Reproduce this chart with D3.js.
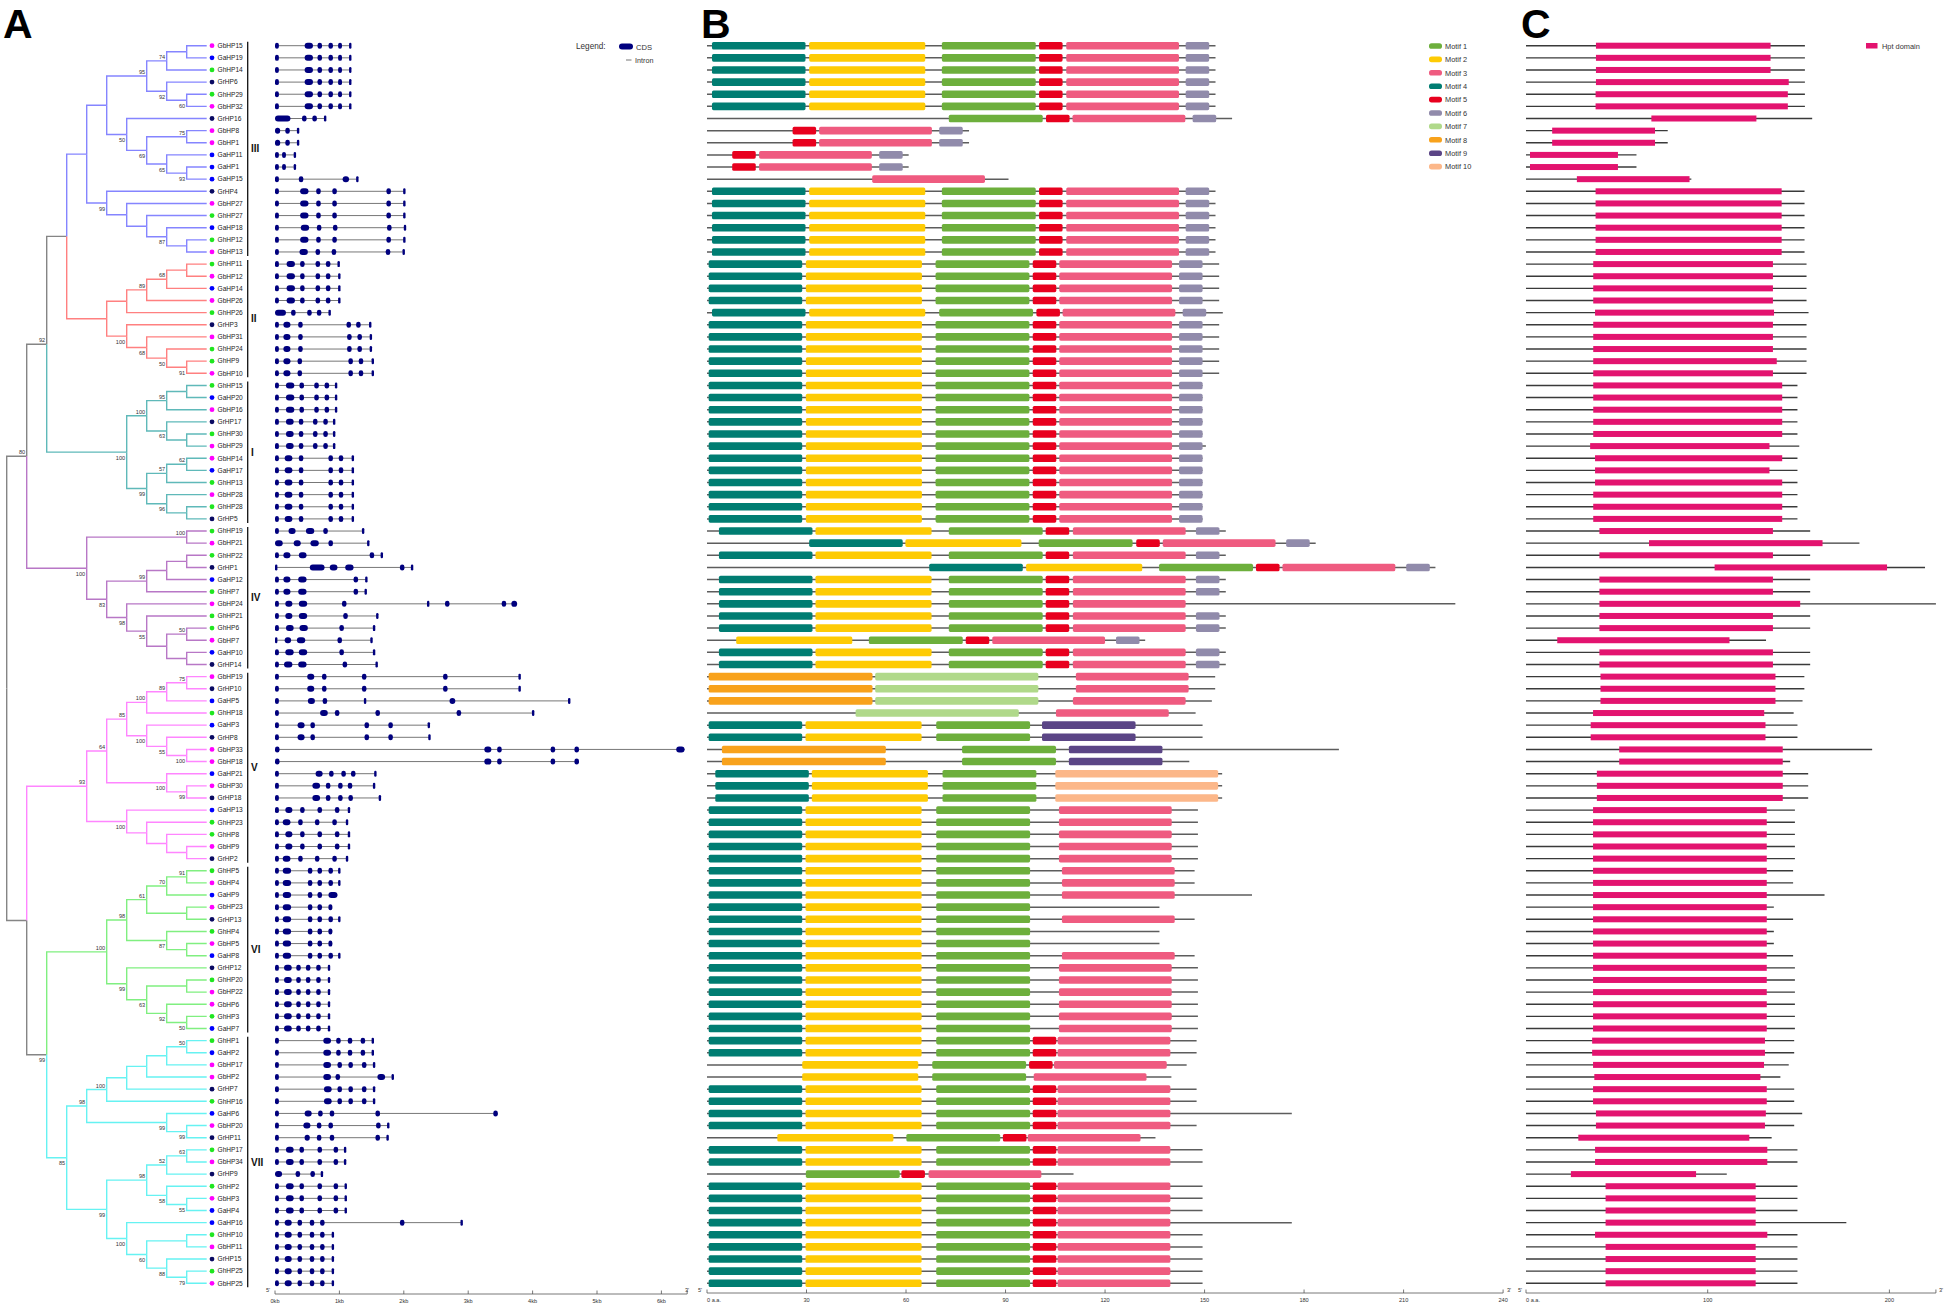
<!DOCTYPE html>
<html><head><meta charset="utf-8">
<script src="https://cdn.jsdelivr.net/npm/d3@7"></script>
<style>body{margin:0;background:#fff}svg{display:block}text{font-family:"Liberation Sans",Arial,sans-serif}</style>
</head><body><svg id="c" width="1944" height="1305"></svg>
<script>
// ---------------- DATA ----------------
const leafNames = ["GbHP15","GaHP19","GhHP14","GrHP6","GhHP29","GbHP32","GrHP16","GbHP8","GbHP1","GaHP11","GaHP1","GaHP15","GrHP4","GbHP27","GhHP27","GaHP18","GhHP12","GbHP13",
"GhHP11","GbHP12","GaHP14","GbHP26","GhHP26","GrHP3","GbHP31","GhHP24","GhHP9","GbHP10",
"GhHP15","GaHP20","GbHP16","GrHP17","GhHP30","GbHP29","GbHP14","GaHP17","GhHP13","GbHP28","GhHP28","GrHP5",
"GhHP19","GbHP21","GhHP22","GrHP1","GaHP12","GhHP7","GbHP24","GhHP21","GhHP6","GbHP7","GaHP10","GrHP14",
"GbHP19","GrHP10","GaHP5","GhHP18","GaHP3","GrHP8","GbHP33","GbHP18","GaHP21","GbHP30","GrHP18","GaHP13","GhHP23","GhHP8","GbHP9","GrHP2",
"GhHP5","GbHP4","GaHP9","GbHP23","GrHP13","GhHP4","GbHP5","GaHP8","GrHP12","GhHP20","GbHP22","GbHP6","GhHP3","GaHP7",
"GhHP1","GaHP2","GbHP17","GbHP2","GrHP7","GhHP16","GaHP6","GbHP20","GrHP11","GhHP17","GbHP34","GrHP9","GhHP2","GbHP3","GaHP4","GaHP16","GhHP10","GbHP11","GrHP15","GhHP25","GbHP25"];

const cladeNames = ["III","II","I","IV","V","VI","VII"];
const cladeSizes = [18,10,12,12,16,14,21];
const cladeColors = ["#8585ff","#ff8080","#5fb9b9","#b877c6","#ff85ff","#80ef80","#66f2f2"];
const speciesColors = {Gb:"#ff00ff",Ga:"#0000ff",Gh:"#1fe61f",Gr:"#0a0a62"};

// Newick topology with bootstrap values (read from the tree)
const treeIII = "(((((GbHP15,GaHP19),GhHP14)74,(GrHP6,(GhHP29,GbHP32)60)92)95,(GrHP16,((GbHP8,GbHP1)75,(GaHP11,(GaHP1,GaHP15)93)65)69)50),(GrHP4,(GbHP27,(GhHP27,(GaHP18,(GhHP12,GbHP13))87)))99)";
const treeII = "(((((GhHP11,GbHP12),GaHP14)68,GbHP26)89,GhHP26),(GrHP3,(GbHP31,(GhHP24,(GhHP9,GbHP10)91)50)68)100)";
const treeI = "((((GhHP15,GaHP20),GbHP16)95,(GrHP17,(GhHP30,GbHP29))63)100,(((GbHP14,GaHP17)62,GhHP13)57,(GbHP28,(GhHP28,GrHP5))96)99)100";
const treeIV = "((GhHP19,GbHP21)100,((((GhHP22,GrHP1),GaHP12),GhHP7)99,(GbHP24,(GhHP21,((GhHP6,GbHP7)50,(GaHP10,GrHP14)))55)98)83)100";
const treeV = "((((((GbHP19,GrHP10)75,GaHP5)89,GhHP18)100,(GaHP3,(GrHP8,(GbHP33,GbHP18)100)55)100)85,(GaHP21,(GbHP30,GrHP18)99)100)64,(GaHP13,(GhHP23,(GhHP8,(GbHP9,GrHP2))))100)93";
const treeVI = "(((((GhHP5,GbHP4)91,GaHP9)70,(GbHP23,GrHP13))61,(GhHP4,(GbHP5,GaHP8))87)98,(GrHP12,((GhHP20,GbHP22),(GbHP6,(GhHP3,GaHP7)50)92)63)99)100";
const treeVII = "(((((((GhHP1,GaHP2)50,GbHP17),GbHP2),GrHP7),GhHP16)100,(GaHP6,(GbHP20,GrHP11)99)99)98,((((GhHP17,GbHP34)63,GrHP9)52,(GhHP2,(GbHP3,GaHP4)55)58)98,(GaHP16,((GhHP10,GbHP11),(GrHP15,(GhHP25,GbHP25)79)88)60)100)99)85";
const treeNewick = `((((${treeIII},${treeII}),${treeI})92,${treeIV})80,(${treeV},(${treeVI},${treeVII})99))`;

// gene structures: CDS [start,end] in kb
const geneExons = [
[[0,.06],[.46,.59],[.66,.73],[.83,.90],[.98,1.04],[1.15,1.18]],
[[0,.06],[.46,.59],[.66,.73],[.83,.90],[.98,1.04],[1.15,1.18]],
[[0,.06],[.46,.59],[.66,.73],[.83,.90],[.98,1.04],[1.15,1.18]],
[[0,.06],[.46,.59],[.66,.73],[.83,.90],[.98,1.04],[1.15,1.18]],
[[0,.06],[.46,.59],[.66,.73],[.83,.90],[.98,1.04],[1.15,1.18]],
[[0,.06],[.46,.59],[.66,.73],[.83,.90],[.98,1.04],[1.15,1.18]],
[[0,.24],[.42,.49],[.58,.65],[.76,.79]],
[[0,.08],[.16,.23],[.34,.36]],
[[0,.08],[.16,.23],[.34,.36]],
[[0,.06],[.11,.17],[.29,.31]],
[[0,.06],[.11,.17],[.29,.31]],
[[0,.06],[.37,.44],[1.05,1.15],[1.26,1.28]],
[[0,.06],[.39,.52],[.64,.71],[.89,.96],[1.73,1.80],[1.99,2.01]],
[[0,.06],[.39,.52],[.64,.71],[.89,.96],[1.73,1.80],[1.99,2.01]],
[[0,.06],[.39,.52],[.64,.71],[.89,.96],[1.73,1.80],[1.99,2.01]],
[[0,.06],[.40,.53],[.65,.72],[.90,.97],[1.74,1.81],[2.00,2.02]],
[[0,.06],[.39,.52],[.64,.71],[.89,.96],[1.73,1.80],[1.99,2.01]],
[[0,.06],[.38,.51],[.63,.70],[.88,.95],[1.72,1.79],[1.98,2.00]],
[[0,.06],[.18,.31],[.39,.46],[.63,.70],[.79,.86],[.97,.98]],
[[0,.06],[.18,.31],[.39,.46],[.63,.70],[.79,.86],[.98,.99]],
[[0,.06],[.18,.31],[.39,.46],[.63,.70],[.79,.86],[.98,.99]],
[[0,.06],[.18,.31],[.39,.46],[.63,.70],[.79,.86],[.98,.99]],
[[0,.17],[.25,.32],[.50,.57],[.65,.72],[.83,.85]],
[[0,.06],[.13,.24],[.36,.43],[1.11,1.18],[1.26,1.33],[1.46,1.48]],
[[0,.06],[.13,.24],[.36,.43],[1.12,1.19],[1.28,1.35],[1.47,1.49]],
[[0,.06],[.13,.24],[.36,.43],[1.12,1.19],[1.28,1.35],[1.47,1.49]],
[[0,.06],[.13,.24],[.35,.42],[1.14,1.21],[1.30,1.37],[1.50,1.52]],
[[0,.06],[.13,.24],[.35,.42],[1.14,1.21],[1.30,1.37],[1.50,1.52]],
[[0,.06],[.17,.30],[.38,.45],[.61,.68],[.77,.84],[.93,.95]],
[[0,.06],[.17,.30],[.38,.45],[.61,.68],[.77,.84],[.93,.95]],
[[0,.06],[.17,.30],[.38,.45],[.61,.68],[.77,.84],[.93,.95]],
[[0,.06],[.17,.29],[.37,.44],[.59,.66],[.75,.82],[.90,.92]],
[[0,.06],[.17,.29],[.37,.44],[.59,.66],[.75,.82],[.90,.92]],
[[0,.06],[.17,.29],[.37,.44],[.59,.66],[.75,.82],[.90,.92]],
[[0,.06],[.15,.27],[.37,.44],[.83,.90],[.99,1.06],[1.19,1.21]],
[[0,.06],[.15,.27],[.37,.44],[.83,.90],[.99,1.06],[1.19,1.21]],
[[0,.06],[.15,.27],[.37,.44],[.83,.90],[.99,1.06],[1.19,1.21]],
[[0,.06],[.15,.27],[.37,.44],[.83,.90],[.99,1.06],[1.19,1.21]],
[[0,.06],[.15,.27],[.37,.44],[.83,.90],[.99,1.06],[1.19,1.21]],
[[0,.06],[.15,.27],[.37,.44],[.83,.90],[.99,1.06],[1.19,1.21]],
[[0,.06],[.21,.32],[.48,.61],[.75,.82],[1.35,1.37]],
[[0,.12],[.29,.40],[.55,.68],[.83,.90],[1.43,1.45]],
[[0,.06],[.13,.24],[.37,.49],[1.47,1.54],[1.64,1.66]],
[[0,.02],[.54,.77],[.85,.97],[1.09,1.22],[1.94,2.01],[2.11,2.13]],
[[0,.06],[.13,.24],[.36,.49],[1.22,1.29],[1.40,1.42]],
[[0,.06],[.13,.24],[.36,.49],[1.22,1.29],[1.39,1.41]],
[[0,.06],[.16,.27],[.37,.50],[1.04,1.11],[2.36,2.38],[2.64,2.71],[3.52,3.59],[3.67,3.76]],
[[0,.06],[.16,.27],[.37,.50],[1.06,1.13],[1.57,1.59]],
[[0,.06],[.17,.29],[.38,.51],[1.00,1.07],[1.52,1.54]],
[[0,.02],[.15,.25],[.34,.47],[.97,1.04],[1.48,1.50]],
[[0,.06],[.16,.29],[.37,.50],[1.00,1.07],[1.52,1.54]],
[[0,.06],[.14,.27],[.36,.49],[1.05,1.12],[1.56,1.58]],
[[0,.06],[.50,.61],[.73,.80],[1.35,1.42],[2.61,2.68],[3.78,3.80]],
[[0,.06],[.50,.61],[.73,.80],[1.35,1.42],[2.61,2.68],[3.78,3.80]],
[[0,.06],[.51,.62],[.74,.81],[1.38,1.40],[2.71,2.80],[4.55,4.57]],
[[0,.06],[.70,.82],[.93,1.00],[1.56,1.63],[2.82,2.89],[3.99,4.01]],
[[0,.06],[.35,.46],[.55,.62],[1.39,1.46],[1.76,1.83],[2.37,2.39]],
[[0,.06],[.35,.46],[.55,.62],[1.39,1.46],[1.76,1.83],[2.38,2.40]],
[[0,.07],[3.25,3.36],[3.45,3.52],[4.28,4.35],[4.65,4.72],[6.23,6.36]],
[[0,.07],[3.25,3.36],[3.45,3.52],[4.28,4.35],[4.65,4.72]],
[[0,.06],[.63,.74],[.84,.91],[1.03,1.10],[1.18,1.25],[1.54,1.56]],
[[0,.06],[.58,.70],[.79,.86],[.98,1.05],[1.13,1.20],[1.52,1.54]],
[[0,.06],[.58,.70],[.79,.86],[.98,1.05],[1.14,1.21],[1.61,1.63]],
[[0,.06],[.16,.27],[.39,.46],[.66,.73],[.93,1.00],[1.13,1.15]],
[[0,.06],[.12,.24],[.36,.43],[.62,.69],[.89,.96],[1.10,1.12]],
[[0,.06],[.16,.27],[.39,.46],[.66,.73],[.93,1.00],[1.13,1.15]],
[[0,.06],[.16,.27],[.39,.46],[.66,.73],[.93,1.00],[1.13,1.15]],
[[0,.06],[.12,.24],[.36,.43],[.62,.69],[.89,.96],[1.10,1.12]],
[[0,.06],[.12,.25],[.51,.58],[.66,.73],[.83,.90],[.98,1.00]],
[[0,.06],[.12,.25],[.51,.58],[.66,.73],[.83,.90],[.98,1.00]],
[[0,.06],[.12,.25],[.51,.58],[.66,.73],[.83,.97]],
[[0,.06],[.12,.25],[.51,.58],[.66,.73],[.83,.89]],
[[0,.06],[.12,.25],[.51,.58],[.66,.73],[.83,.90],[.98,1.00]],
[[0,.06],[.12,.25],[.51,.58],[.66,.73],[.83,.89]],
[[0,.06],[.12,.25],[.51,.58],[.66,.73],[.83,.89]],
[[0,.06],[.12,.25],[.51,.58],[.66,.73],[.83,.90],[.98,1.00]],
[[0,.06],[.14,.26],[.33,.40],[.48,.55],[.64,.71],[.82,.84]],
[[0,.06],[.14,.26],[.33,.40],[.48,.55],[.64,.71],[.82,.84]],
[[0,.06],[.14,.26],[.33,.40],[.48,.55],[.64,.71],[.82,.84]],
[[0,.06],[.14,.26],[.33,.40],[.48,.55],[.64,.71],[.82,.84]],
[[0,.06],[.14,.26],[.33,.40],[.48,.55],[.64,.71],[.82,.84]],
[[0,.06],[.14,.26],[.33,.40],[.48,.55],[.64,.71],[.82,.84]],
[[0,.06],[.75,.87],[.95,1.02],[1.13,1.20],[1.33,1.40],[1.50,1.52]],
[[0,.06],[.75,.87],[.95,1.02],[1.13,1.20],[1.33,1.40],[1.50,1.52]],
[[0,.06],[.75,.87],[.97,1.04],[1.14,1.21],[1.35,1.42],[1.52,1.54]],
[[0,.06],[.75,.87],[.94,1.01],[1.59,1.71],[1.81,1.83]],
[[0,.06],[.76,.88],[.97,1.04],[1.14,1.21],[1.35,1.42],[1.52,1.54]],
[[0,.06],[.76,.88],[.97,1.04],[1.14,1.21],[1.35,1.42],[1.52,1.54]],
[[0,.06],[.46,.57],[.67,.74],[.85,.92],[1.56,1.63],[3.39,3.46]],
[[0,.06],[.44,.55],[.65,.72],[.83,.90],[1.57,1.64],[1.74,1.76]],
[[0,.06],[.46,.54],[.65,.72],[.85,.92],[1.56,1.63],[1.73,1.75]],
[[0,.06],[.17,.29],[.38,.45],[.66,.73],[.91,.98],[1.07,1.09]],
[[0,.06],[.17,.29],[.38,.45],[.66,.73],[.91,.98],[1.07,1.09]],
[[0,.11],[.32,.39],[.55,.62],[.71,.73]],
[[0,.06],[.17,.29],[.38,.45],[.66,.73],[.91,.98],[1.08,1.10]],
[[0,.06],[.17,.29],[.38,.45],[.66,.73],[.91,.98],[1.08,1.10]],
[[0,.06],[.17,.29],[.38,.45],[.66,.73],[.91,.98],[1.08,1.10]],
[[0,.06],[.15,.26],[.35,.42],[.54,.61],[.70,.77],[1.94,2.01],[2.88,2.90]],
[[0,.06],[.15,.26],[.35,.42],[.54,.61],[.70,.77],[.88,.90]],
[[0,.06],[.15,.26],[.35,.42],[.54,.61],[.70,.77],[.88,.90]],
[[0,.06],[.15,.26],[.35,.42],[.54,.61],[.70,.77],[.88,.90]],
[[0,.06],[.15,.26],[.35,.42],[.54,.61],[.70,.77],[.88,.90]],
[[0,.06],[.15,.26],[.35,.42],[.54,.61],[.70,.77],[.88,.90]]
];
const kbTicks = [0,1,2,3,4,5,6];
const kbTickLabels = ["0kb","1kb","2kb","3kb","4kb","5kb","6kb"];

// motifs
const motifNames = ["Motif 1","Motif 2","Motif 3","Motif 4","Motif 5","Motif 6","Motif 7","Motif 8","Motif 9","Motif 10"];
const motifColors = ["#6daf3c","#fecb04","#ef5b80","#007d72","#e8001e","#918bab","#b0d98a","#f8a21c","#5b4586","#fcb789"];
const motifWidths = [28.3,35,34,28.2,7.1,7.1,49.2,49.4,28.2,49.1]; // drawn width in a.a.
const proteinLen = [153.3,153.3,153.3,153.3,153.3,153.3,158.3,79,79,60.8,60.8,90.9,153.3,153.3,153.3,153.3,153.3,153.3,
154.4,154.4,154.4,154.4,155.5,154.4,154.4,154.4,154.4,154.4,
149.4,149.4,149.4,149.4,149.4,150.4,149.4,149.4,149.4,149.4,149.4,149.4,
156.4,183.5,156.4,219.6,156.4,156.4,225.6,156.4,156.4,132.1,156.4,156.4,
153.2,153.2,152.2,147.3,149.4,149.4,190.5,145.4,155.3,155.3,155.3,148,148,148,148,148,
147,147,164.3,136.4,147,136.4,136.4,147,148,148,148,148,148,148,
147.6,147.6,144.6,140,147.6,147.6,176.3,147.6,135.2,149.4,149.4,110.5,149.4,149.4,149.4,176.3,149.4,149.4,149.4,149.4,149.4];
// [motif number, start a.a.]
const motifSites = [
[[4,1.5],[2,30.8],[1,70.8],[5,100.1],[3,108.3],[6,144.3]],
[[4,1.5],[2,30.8],[1,70.8],[5,100.1],[3,108.3],[6,144.3]],
[[4,1.5],[2,30.8],[1,70.8],[5,100.1],[3,108.3],[6,144.3]],
[[4,1.5],[2,30.8],[1,70.8],[5,100.1],[3,108.3],[6,144.3]],
[[4,1.5],[2,30.8],[1,70.8],[5,100.1],[3,108.3],[6,144.3]],
[[4,1.5],[2,30.8],[1,70.8],[5,100.1],[3,108.3],[6,144.3]],
[[1,72.9],[5,102.2],[3,110.2],[6,146.4]],
[[5,25.8],[3,33.8],[6,70]],
[[5,25.8],[3,33.8],[6,70]],
[[5,7.6],[3,15.7],[6,51.9]],
[[5,7.6],[3,15.7],[6,51.9]],
[[3,49.8]],
[[4,1.5],[2,30.8],[1,70.8],[5,100.1],[3,108.3],[6,144.3]],
[[4,1.5],[2,30.8],[1,70.8],[5,100.1],[3,108.3],[6,144.3]],
[[4,1.5],[2,30.8],[1,70.8],[5,100.1],[3,108.3],[6,144.3]],
[[4,1.5],[2,30.8],[1,70.8],[5,100.1],[3,108.3],[6,144.3]],
[[4,1.5],[2,30.8],[1,70.8],[5,100.1],[3,108.3],[6,144.3]],
[[4,1.5],[2,30.8],[1,70.8],[5,100.1],[3,108.3],[6,144.3]],
[[4,0.5],[2,29.8],[1,68.9],[5,98.2],[3,106.2],[6,142.3]],
[[4,0.5],[2,29.8],[1,68.9],[5,98.2],[3,106.2],[6,142.3]],
[[4,0.5],[2,29.8],[1,68.9],[5,98.2],[3,106.2],[6,142.3]],
[[4,0.5],[2,29.8],[1,68.9],[5,98.2],[3,106.2],[6,142.3]],
[[4,1.5],[2,30.8],[1,70],[5,99.3],[3,107.2],[6,143.4]],
[[4,0.5],[2,29.8],[1,68.9],[5,98.2],[3,106.2],[6,142.3]],
[[4,0.5],[2,29.8],[1,68.9],[5,98.2],[3,106.2],[6,142.3]],
[[4,0.5],[2,29.8],[1,68.9],[5,98.2],[3,106.2],[6,142.3]],
[[4,0.5],[2,29.8],[1,68.9],[5,98.2],[3,106.2],[6,142.3]],
[[4,0.5],[2,29.8],[1,68.9],[5,98.2],[3,106.2],[6,142.3]],
[[4,0.5],[2,29.8],[1,68.9],[5,98.2],[3,106.2],[6,142.3]],
[[4,0.5],[2,29.8],[1,68.9],[5,98.2],[3,106.2],[6,142.3]],
[[4,0.5],[2,29.8],[1,68.9],[5,98.2],[3,106.2],[6,142.3]],
[[4,0.5],[2,29.8],[1,68.9],[5,98.2],[3,106.2],[6,142.3]],
[[4,0.5],[2,29.8],[1,68.9],[5,98.2],[3,106.2],[6,142.3]],
[[4,0.5],[2,29.8],[1,68.9],[5,98.2],[3,106.2],[6,142.3]],
[[4,0.5],[2,29.8],[1,68.9],[5,98.2],[3,106.2],[6,142.3]],
[[4,0.5],[2,29.8],[1,68.9],[5,98.2],[3,106.2],[6,142.3]],
[[4,0.5],[2,29.8],[1,68.9],[5,98.2],[3,106.2],[6,142.3]],
[[4,0.5],[2,29.8],[1,68.9],[5,98.2],[3,106.2],[6,142.3]],
[[4,0.5],[2,29.8],[1,68.9],[5,98.2],[3,106.2],[6,142.3]],
[[4,0.5],[2,29.8],[1,68.9],[5,98.2],[3,106.2],[6,142.3]],
[[4,3.6],[2,32.7],[1,72.9],[5,102.1],[3,110.3],[6,147.4]],
[[4,30.8],[2,59.8],[1,100],[5,129.4],[3,137.4],[6,174.6]],
[[4,3.6],[2,32.7],[1,72.9],[5,102.1],[3,110.3],[6,147.4]],
[[4,67],[2,96.2],[1,136.3],[5,165.5],[3,173.5],[6,210.8]],
[[4,3.6],[2,32.7],[1,72.9],[5,102.1],[3,110.3],[6,147.4]],
[[4,3.6],[2,32.7],[1,72.9],[5,102.1],[3,110.3],[6,147.4]],
[[4,3.6],[2,32.7],[1,72.9],[5,102.1],[3,110.3]],
[[4,3.6],[2,32.7],[1,72.9],[5,102.1],[3,110.3],[6,147.4]],
[[4,3.6],[2,32.7],[1,72.9],[5,102.1],[3,110.3],[6,147.4]],
[[2,8.8],[1,48.8],[5,78],[3,86],[6,123.3]],
[[4,3.6],[2,32.7],[1,72.9],[5,102.1],[3,110.3],[6,147.4]],
[[4,3.6],[2,32.7],[1,72.9],[5,102.1],[3,110.3],[6,147.4]],
[[8,0.5],[7,50.7],[3,111.2]],
[[8,0.5],[7,50.7],[3,111.2]],
[[8,0.5],[7,50.7],[3,110.3]],
[[7,44.8],[3,105.2]],
[[4,0.5],[2,29.7],[1,69.1],[9,101]],
[[4,0.5],[2,29.7],[1,69.1],[9,101]],
[[8,4.5],[1,76.9],[9,109.1]],
[[8,4.5],[1,76.9],[9,109.1]],
[[4,2.5],[2,31.6],[1,71],[10,105]],
[[4,2.5],[2,31.6],[1,71],[10,105]],
[[4,2.5],[2,31.6],[1,71],[10,105]],
[[4,0.5],[2,29.7],[1,69.1],[3,106.1]],
[[4,0.5],[2,29.7],[1,69.1],[3,106.1]],
[[4,0.5],[2,29.7],[1,69.1],[3,106.1]],
[[4,0.5],[2,29.7],[1,69.1],[3,106.1]],
[[4,0.5],[2,29.7],[1,69.1],[3,106.1]],
[[4,0.5],[2,29.7],[1,69.1],[3,107]],
[[4,0.5],[2,29.7],[1,69.1],[3,107]],
[[4,0.5],[2,29.7],[1,69.1],[3,107]],
[[4,0.5],[2,29.7],[1,69.1]],
[[4,0.5],[2,29.7],[1,69.1],[3,107]],
[[4,0.5],[2,29.7],[1,69.1]],
[[4,0.5],[2,29.7],[1,69.1]],
[[4,0.5],[2,29.7],[1,69.1],[3,107]],
[[4,0.5],[2,29.7],[1,69.1],[3,106.1]],
[[4,0.5],[2,29.7],[1,69.1],[3,106.1]],
[[4,0.5],[2,29.7],[1,69.1],[3,106.1]],
[[4,0.5],[2,29.7],[1,69.1],[3,106.1]],
[[4,0.5],[2,29.7],[1,69.1],[3,106.1]],
[[4,0.5],[2,29.7],[1,69.1],[3,106.1]],
[[4,0.5],[2,29.7],[1,69.1],[5,98.2],[3,105.7]],
[[4,0.5],[2,29.7],[1,69.1],[5,98.2],[3,105.7]],
[[2,28.7],[1,67.9],[5,97.1],[3,104.6]],
[[2,28.7],[1,67.9],[3,98.5]],
[[4,0.5],[2,29.7],[1,69.1],[5,98.2],[3,105.7]],
[[4,0.5],[2,29.7],[1,69.1],[5,98.2],[3,105.7]],
[[4,0.5],[2,29.7],[1,69.1],[5,98.2],[3,105.7]],
[[4,0.5],[2,29.7],[1,69.1],[5,98.2],[3,105.7]],
[[2,21.2],[1,60.1],[5,89.2],[3,96.7]],
[[4,0.5],[2,29.7],[1,69.1],[5,98.2],[3,105.7]],
[[4,0.5],[2,29.7],[1,69.1],[5,98.2],[3,105.7]],
[[1,29.8],[5,58.6],[3,66.8]],
[[4,0.5],[2,29.7],[1,69.1],[5,98.2],[3,105.7]],
[[4,0.5],[2,29.7],[1,69.1],[5,98.2],[3,105.7]],
[[4,0.5],[2,29.7],[1,69.1],[5,98.2],[3,105.7]],
[[4,0.5],[2,29.7],[1,69.1],[5,98.2],[3,105.7]],
[[4,0.5],[2,29.7],[1,69.1],[5,98.2],[3,105.7]],
[[4,0.5],[2,29.7],[1,69.1],[5,98.2],[3,105.7]],
[[4,0.5],[2,29.7],[1,69.1],[5,98.2],[3,105.7]],
[[4,0.5],[2,29.7],[1,69.1],[5,98.2],[3,105.7]],
[[4,0.5],[2,29.7],[1,69.1],[5,98.2],[3,105.7]]
];
const aaTicks = [0,30,60,90,120,150,180,210,240];
const aaTickLabels = ["0 a.a.","30","60","90","120","150","180","210","240"];

// Hpt domain: [start, end, protein length] in a.a.
const hptDomains = [
[38.5,134.6,153.5],[38.5,134.6,153.5],[38.5,134.6,153.5],[38.5,144.6,153.5],[38.3,144.1,153.5],[38.3,144.1,153.5],
[69,126.8,157.5],[14.4,71,78],[14.4,71,78],[2.2,50.6,60.8],[2.2,50.6,60.8],[28,90,91],
[38.3,140.7,153.3],[38.3,140.7,153.3],[38.3,140.7,153.3],[38.3,140.7,153.3],[38.3,140.7,153.3],[38.3,140.7,153.3],
[37,135.9,154.4],[37,135.9,154.4],[37,135.9,154.4],[37,135.9,154.4],[38,136.5,155.5],[37,135.9,154.4],[37,135.9,154.4],[37,135.9,154.4],[37,138,154.4],[37,135.9,154.4],
[37,141,149.4],[37,141,149.4],[37,141,149.4],[37,141,149.4],[37,141,149.4],[35.3,134,150.4],[38,141,149.4],[38,134,149.4],[38,141,149.4],[37,141,149.4],[37,141,149.4],[37,141,149.4],
[40.4,135.9,156.4],[67.7,163.2,183.5],[40.4,135.9,156.4],[103.8,198.7,219.6],[40.4,135.9,156.4],[40.4,135.9,156.4],[40.4,150.9,225.6],[40.4,135.9,156.4],[40.4,135.9,156.4],[17.2,112,132.1],[40.4,135.9,156.4],[40.4,135.9,156.4],
[41,137.3,153.2],[41,137.3,153.2],[41,137.3,152.2],[36.9,131.1,147.3],[35.6,131.8,149.4],[35.6,131.8,149.4],[51.3,141.3,190.5],[51.3,141.3,145.4],
[39,141.3,155.3],[39,141.3,155.3],[39,141.3,155.3],
[36.9,132.5,148],[36.9,132.5,148],[36.9,132.5,148],[36.9,132.5,148],[36.9,132.5,148],
[36.9,132.5,147],[36.9,132.5,147],[36.9,132.5,164.3],[36.9,132.5,136.4],[36.9,132.5,147],[36.9,132.5,136.4],[36.9,132.5,136.4],[36.9,132.5,147],
[36.9,132.5,148],[36.9,132.5,148],[36.9,132.5,148],[36.9,132.5,148],[36.9,132.5,148],[36.9,132.5,148],
[36.4,131.5,147.6],[36.4,131.5,147.6],[36.9,131,144.6],[37.6,129,140],[36.9,132.5,147.6],[36.9,132.5,147.6],[38.5,132,152],[38.5,131.5,147.6],[28.8,122.9,135.2],
[38,132.8,149.4],[38,132.8,149.4],[24.7,93.6,110.5],[43.8,126.4,149.4],[43.8,126.4,149.4],[43.8,126.4,149.4],[43.8,126.4,176.3],
[38,132.8,149.4],[43.8,126.4,149.4],[43.8,126.4,149.4],[43.8,126.4,149.4],[43.8,126.4,149.4]
];
const hptTicks = [0,100,200];
const hptTickLabels = ["0 a.a.","100","200"];

// ---------------- DRAW ----------------
const svg = d3.select("#c");
svg.append("rect").attr("width",1944).attr("height",1305).attr("fill","#fff");
const rowY = d3.scaleLinear().domain([0,102]).range([45.7,1283.3]);
const rowOf = new Map(leafNames.map((n,i)=>[n,i]));
const cladeOfRow = [];
cladeSizes.forEach((s,k)=>{for(let j=0;j<s;j++) cladeOfRow.push(k);});

function parseNewick(s){
  let i=0;
  function node(){
    const n={};
    if(s[i]==="("){
      i++; n.children=[node()];
      while(s[i]===","){i++; n.children.push(node());}
      i++;
    }
    const j=i;
    while(i<s.length && !",()".includes(s[i])) i++;
    const lab=s.slice(j,i);
    if(n.children){ if(lab) n.support=lab; } else n.name=lab;
    return n;
  }
  return node();
}

// --- Tree (panel A)
const root = d3.hierarchy(parseNewick(treeNewick));
d3.cluster().nodeSize([1,1]).separation(()=>1)(root);
const H = root.height;
const depthX = d3.scaleLinear().domain([0,H]).range([6.7,206.7]);
const nodeY = n => {
  if(!n.children) return rowY(rowOf.get(n.data.name));
  return (nodeY(n.children[0]) + nodeY(n.children[n.children.length-1]))/2;
};
root.each(n=>{
  n.py = nodeY(n); n.px = depthX(n.y);
  const rows = n.leaves().map(l=>cladeOfRow[rowOf.get(l.data.name)]);
  n.clade = rows.every(r=>r===rows[0]) ? rows[0] : -1;
});
const gT = svg.append("g");
root.links().forEach(({source,target})=>{
  gT.append("path")
    .attr("d",`M${source.px},${source.py}V${target.py}H${target.px}`)
    .attr("fill","none")
    .attr("stroke", target.clade>=0 ? cladeColors[target.clade] : "#858585")
    .attr("stroke-width",1.4);
});
root.descendants().filter(n=>n.children && n.data.support).forEach(n=>{
  const upper = n.parent && n.parent.children[0]===n;
  gT.append("text").attr("x",n.px-1.5).attr("y", upper ? n.py-2 : n.py+7.5)
    .attr("text-anchor","end").attr("font-size",5.6).attr("fill","#333").text(n.data.support);
});
// leaves
leafNames.forEach((name,i)=>{
  const y=rowY(i);
  gT.append("circle").attr("cx",212).attr("cy",y).attr("r",2.4).attr("fill",speciesColors[name.slice(0,2)]);
  gT.append("text").attr("x",217.5).attr("y",y+2.3).attr("font-size",6.6).attr("fill","#222").text(name);
});
// clade brackets
let acc=0;
cladeSizes.forEach((s,k)=>{
  const y0=rowY(acc)-4, y1=rowY(acc+s-1)+4;
  gT.append("line").attr("x1",247.7).attr("x2",247.7).attr("y1",y0).attr("y2",y1).attr("stroke","#111").attr("stroke-width",1.3);
  gT.append("text").attr("x",251).attr("y",(rowY(acc)+rowY(acc+s-1))/2+3.6).attr("font-size",10).attr("font-weight","bold").attr("fill","#111").text(cladeNames[k]);
  acc+=s;
});

// --- gene structure
const xs = d3.scaleLinear().domain([0,6]).range([275,661.4]);
const gG = svg.append("g");
geneExons.forEach((ex,i)=>{
  const y=rowY(i), end=ex[ex.length-1][1];
  gG.append("line").attr("x1",xs(0)).attr("x2",xs(end)).attr("y1",y).attr("y2",y).attr("stroke","#777").attr("stroke-width",1);
  ex.forEach(([s,e])=>{
    const w=Math.max(xs(e)-xs(s),2.4);
    gG.append("rect").attr("x",xs(s)).attr("y",y-3).attr("width",w).attr("height",6).attr("rx",Math.min(3,w/2)).attr("fill","#00007e");
  });
});
const axisY = 1294;
gG.append("line").attr("x1",xs(0)).attr("x2",xs(6.4)).attr("y1",axisY).attr("y2",axisY).attr("stroke","#555").attr("stroke-width",0.8);
kbTicks.forEach((t,i)=>{
  gG.append("line").attr("x1",xs(t)).attr("x2",xs(t)).attr("y1",axisY-3.5).attr("y2",axisY).attr("stroke","#555").attr("stroke-width",0.8);
  gG.append("text").attr("x",xs(t)).attr("y",1302.5).attr("text-anchor","middle").attr("font-size",5.6).attr("fill","#333").text(kbTickLabels[i]);
});
gG.append("line").attr("x1",xs(6.4)).attr("x2",xs(6.4)).attr("y1",axisY-3.5).attr("y2",axisY).attr("stroke","#555").attr("stroke-width",0.8);
gG.append("text").attr("x",266).attr("y",1292).attr("font-size",5.6).attr("fill","#333").text("5'");
gG.append("text").attr("x",685).attr("y",1292).attr("font-size",5.6).attr("fill","#333").text("3'");
// legend A
gG.append("text").attr("x",576).attr("y",49).attr("font-size",8.2).attr("fill","#333").text("Legend:");
gG.append("rect").attr("x",619).attr("y",43.5).attr("width",14).attr("height",6).attr("rx",3).attr("fill","#00007e");
gG.append("text").attr("x",636).attr("y",49.5).attr("font-size",7.6).attr("fill","#333").text("CDS");
gG.append("line").attr("x1",626).attr("x2",631.5).attr("y1",60).attr("y2",60).attr("stroke","#777").attr("stroke-width",1);
gG.append("text").attr("x",635).attr("y",62.5).attr("font-size",7.2).attr("fill","#333").text("Intron");

// --- motifs (panel B)
const xb = d3.scaleLinear().domain([0,240]).range([707,1503.1]);
const gB = svg.append("g");
motifSites.forEach((sites,i)=>{
  const y=rowY(i);
  gB.append("line").attr("x1",xb(0)).attr("x2",xb(proteinLen[i])).attr("y1",y).attr("y2",y).attr("stroke","#5d5d5d").attr("stroke-width",1.5);
  sites.forEach(([m,s])=>{
    gB.append("rect").attr("x",xb(s)).attr("y",y-3.8).attr("width",xb(s+motifWidths[m-1])-xb(s)).attr("height",7.6)
      .attr("rx",1.6).attr("fill",motifColors[m-1]);
  });
});
gB.append("line").attr("x1",xb(0)).attr("x2",xb(240)).attr("y1",1293).attr("y2",1293).attr("stroke","#555").attr("stroke-width",0.8);
aaTicks.forEach((t,i)=>{
  gB.append("line").attr("x1",xb(t)).attr("x2",xb(t)).attr("y1",1289.5).attr("y2",1293).attr("stroke","#555").attr("stroke-width",0.8);
  gB.append("text").attr("x",xb(t)).attr("y",1301.5).attr("text-anchor",i===0?"start":"middle").attr("font-size",5.6).attr("fill","#333").text(aaTickLabels[i]);
});
gB.append("text").attr("x",698).attr("y",1292).attr("font-size",5.6).attr("fill","#333").text("5'");
gB.append("text").attr("x",1507).attr("y",1292).attr("font-size",5.6).attr("fill","#333").text("3'");
motifNames.forEach((nm,k)=>{
  const y=46+k*13.4;
  gB.append("rect").attr("x",1429).attr("y",y-2.8).attr("width",13).attr("height",5.6).attr("rx",2.6).attr("fill",motifColors[k]);
  gB.append("text").attr("x",1445).attr("y",y+2.7).attr("font-size",7.4).attr("fill","#333").text(nm);
});

// --- Hpt domain (panel C)
const xc = d3.scaleLinear().domain([0,200]).range([1526,1889.4]);
const gC = svg.append("g");
hptDomains.forEach(([s,e,L],i)=>{
  const y=rowY(i);
  gC.append("line").attr("x1",xc(0)).attr("x2",xc(L)).attr("y1",y).attr("y2",y).attr("stroke","#3a3a3a").attr("stroke-width",1.4);
  gC.append("rect").attr("x",xc(s)).attr("y",y-3).attr("width",xc(e)-xc(s)).attr("height",6).attr("fill","#e3136f");
});
gC.append("line").attr("x1",xc(0)).attr("x2",xc(225.6)).attr("y1",1293).attr("y2",1293).attr("stroke","#555").attr("stroke-width",0.8);
hptTicks.concat([225.6]).forEach(t=>{
  gC.append("line").attr("x1",xc(t)).attr("x2",xc(t)).attr("y1",1289.5).attr("y2",1293).attr("stroke","#555").attr("stroke-width",0.8);
});
hptTicks.forEach((t,i)=>{
  gC.append("text").attr("x",xc(t)).attr("y",1301.5).attr("text-anchor",i===0?"start":"middle").attr("font-size",5.6).attr("fill","#333").text(hptTickLabels[i]);
});
gC.append("text").attr("x",1518).attr("y",1292).attr("font-size",5.6).attr("fill","#333").text("5'");
gC.append("text").attr("x",1939).attr("y",1292).attr("font-size",5.6).attr("fill","#333").text("3'");
gC.append("rect").attr("x",1866).attr("y",43).attr("width",11.5).attr("height",5.5).attr("fill","#e3136f");
gC.append("text").attr("x",1882).attr("y",48.5).attr("font-size",7.4).attr("fill","#333").text("Hpt domain");

// panel letters
[["A",3],["B",701],["C",1521]].forEach(([t,x])=>{
  svg.append("text").attr("x",x).attr("y",38).attr("font-family","'Liberation Serif','Times New Roman',serif")
    .attr("font-weight","bold").attr("font-size",41).attr("fill","#000").text(t);
});
</script></body></html>
